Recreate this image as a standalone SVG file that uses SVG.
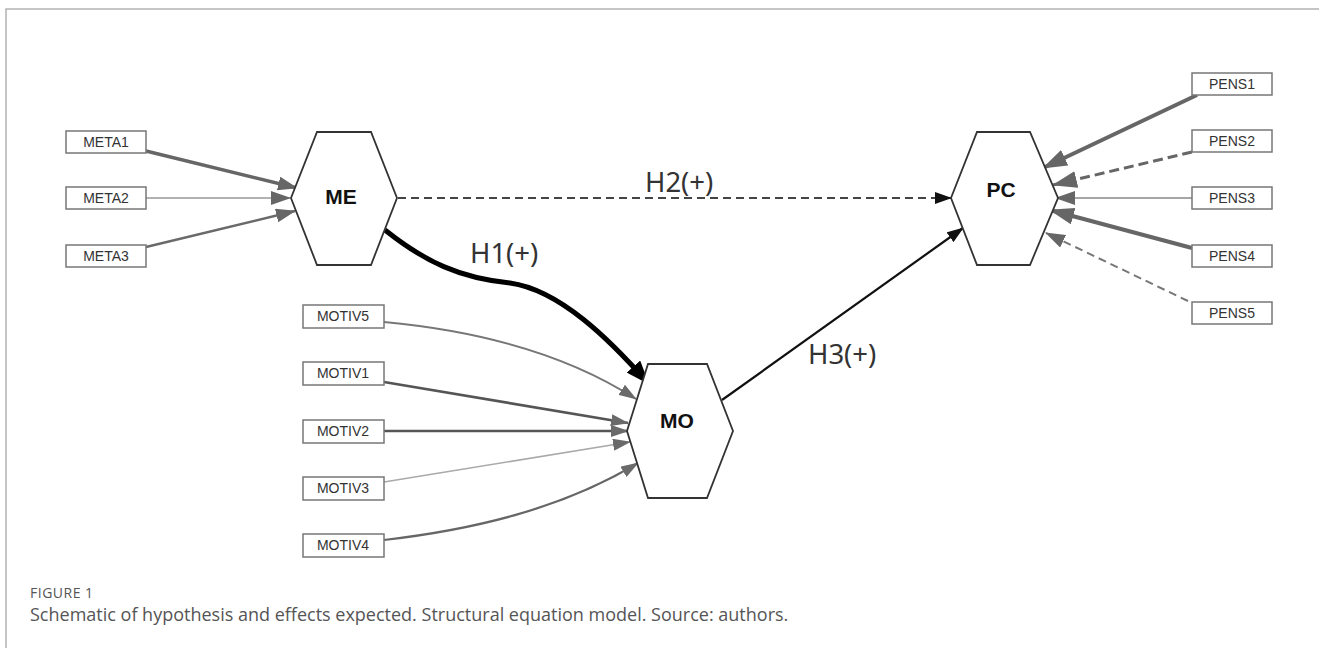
<svg xmlns="http://www.w3.org/2000/svg" width="1319" height="648" viewBox="0 0 1319 648">
<style>
.box{fill:#fff;stroke:#777;stroke-width:1.5}
.bt{font-family:"Liberation Sans",Arial,sans-serif;font-size:14px;fill:#333;text-anchor:middle}
.hex{fill:#fff;stroke:#333;stroke-width:1.8}
.ht{font-family:"Liberation Sans",Arial,sans-serif;font-size:21px;font-weight:bold;fill:#111;text-anchor:middle}
.lab{font-family:"Noto Sans","Open Sans",sans-serif;font-size:27.5px;fill:#333}
.e{fill:none}
.cap{font-family:"Open Sans","Noto Sans",sans-serif;fill:#555}
</style>
<defs>
<marker id="ag" markerUnits="userSpaceOnUse" markerWidth="20" markerHeight="14" refX="19" refY="7" orient="auto"><path d="M0,0 L20,7 L0,14 z" fill="#666"/></marker>
<marker id="agL" markerUnits="userSpaceOnUse" markerWidth="25" markerHeight="17" refX="24" refY="8.5" orient="auto"><path d="M0,0 L25,8.5 L0,17 z" fill="#666"/></marker>
<marker id="ags" markerUnits="userSpaceOnUse" markerWidth="18" markerHeight="12" refX="17" refY="6" orient="auto"><path d="M0,0 L18,6 L0,12 z" fill="#6a6a6a"/></marker>
<marker id="ab" markerUnits="userSpaceOnUse" markerWidth="17" markerHeight="12" refX="16" refY="6" orient="auto"><path d="M0,0 L17,6 L0,12 z" fill="#111"/></marker>
<marker id="abL" markerUnits="userSpaceOnUse" markerWidth="24" markerHeight="18" refX="22" refY="9" orient="auto"><path d="M0,0 L24,9 L0,18 z" fill="#000"/></marker>
</defs>
<g id="frame" stroke="#b3b3b3" stroke-width="1.5" fill="none">
<path d="M6,648 L6,9 L1319,9"/>
</g>
<g id="connectors">
<path class="e" d="M146,151 L297,188" stroke="#666" stroke-width="3.5" marker-end="url(#ag)"/>
<path class="e" d="M146,198 L290,198" stroke="#999" stroke-width="1.6" marker-end="url(#ag)"/>
<path class="e" d="M146,247 L295,211" stroke="#6a6a6a" stroke-width="2.4" marker-end="url(#ag)"/>
<path class="e" d="M398,198 L951,198" stroke="#444" stroke-width="2" stroke-dasharray="8,5" marker-end="url(#ab)"/>
<path class="e" d="M385,230 C425,262 460,278 510,283 C560,290 610,340 648,383" stroke="#000" stroke-width="5" marker-end="url(#abL)"/>
<path class="e" d="M722,400 L963,228" stroke="#111" stroke-width="2.2" marker-end="url(#ab)"/>
<path class="e" d="M384,322 C470,330 560,350 636,399" stroke="#777" stroke-width="1.8" marker-end="url(#ags)"/>
<path class="e" d="M384,382 L628,423" stroke="#555" stroke-width="2.6" marker-end="url(#ags)"/>
<path class="e" d="M384,431 L628,431" stroke="#555" stroke-width="2.6" marker-end="url(#ags)"/>
<path class="e" d="M384,482 L630,442" stroke="#aaa" stroke-width="1.6" marker-end="url(#ags)"/>
<path class="e" d="M384,540 C470,530 560,510 638,463" stroke="#666" stroke-width="2.2" marker-end="url(#ags)"/>
<path class="e" d="M1197,95 L1043,168" stroke="#666" stroke-width="4" marker-end="url(#agL)"/>
<path class="e" d="M1192,152 L1053,185" stroke="#666" stroke-width="3" stroke-dasharray="10,5" marker-end="url(#agL)"/>
<path class="e" d="M1192,198 L1056,198" stroke="#888" stroke-width="1.6" marker-end="url(#ag)"/>
<path class="e" d="M1192,248 L1050,210" stroke="#666" stroke-width="4" marker-end="url(#agL)"/>
<path class="e" d="M1188,301 L1046,233" stroke="#777" stroke-width="2" stroke-dasharray="8,5" marker-end="url(#ag)"/>
</g>
<g id="labels">
<text class="lab" x="645" y="192">H2(+)</text>
<text class="lab" x="470" y="263">H1(+)</text>
<text class="lab" x="808" y="364">H3(+)</text>
</g>
<g id="META1"><rect class="box" x="66" y="131" width="80" height="22"/><text class="bt" x="106" y="147">META1</text></g>
<g id="META2"><rect class="box" x="66" y="187" width="80" height="22"/><text class="bt" x="106" y="203">META2</text></g>
<g id="META3"><rect class="box" x="66" y="245" width="80" height="22"/><text class="bt" x="106" y="261">META3</text></g>
<g id="ME"><polygon class="hex" points="317,132 371,132 397,198 371,265 317,265 291,198"/><text class="ht" x="341" y="204">ME</text></g>
<g id="PC"><polygon class="hex" points="977,132 1030,132 1058,198 1030,265 977,265 951,198"/><text class="ht" x="1001" y="197">PC</text></g>
<g id="MO"><polygon class="hex" points="648,364 707,364 733,431 707,498 648,498 627,431"/><text class="ht" x="677" y="428">MO</text></g>
<g id="PENS1"><rect class="box" x="1192" y="73" width="80" height="22"/><text class="bt" x="1232" y="89">PENS1</text></g>
<g id="PENS2"><rect class="box" x="1192" y="130" width="80" height="22"/><text class="bt" x="1232" y="146">PENS2</text></g>
<g id="PENS3"><rect class="box" x="1192" y="187" width="80" height="22"/><text class="bt" x="1232" y="203">PENS3</text></g>
<g id="PENS4"><rect class="box" x="1192" y="245" width="80" height="22"/><text class="bt" x="1232" y="261">PENS4</text></g>
<g id="PENS5"><rect class="box" x="1192" y="302" width="80" height="22"/><text class="bt" x="1232" y="318">PENS5</text></g>
<g id="MOTIV5"><rect class="box" x="303" y="305" width="81" height="23"/><text class="bt" x="343" y="321">MOTIV5</text></g>
<g id="MOTIV1"><rect class="box" x="303" y="362" width="81" height="23"/><text class="bt" x="343" y="378">MOTIV1</text></g>
<g id="MOTIV2"><rect class="box" x="303" y="420" width="81" height="23"/><text class="bt" x="343" y="436">MOTIV2</text></g>
<g id="MOTIV3"><rect class="box" x="303" y="477" width="81" height="23"/><text class="bt" x="343" y="493">MOTIV3</text></g>
<g id="MOTIV4"><rect class="box" x="303" y="534" width="81" height="23"/><text class="bt" x="343" y="550">MOTIV4</text></g>
<g id="caption">
<text class="cap" x="30" y="598" font-size="14" letter-spacing="0.5" fill="#666">FIGURE 1</text>
<text class="cap" x="30" y="621" font-size="18">Schematic of hypothesis and effects expected. Structural equation model. Source: authors.</text>
</g>
</svg>
